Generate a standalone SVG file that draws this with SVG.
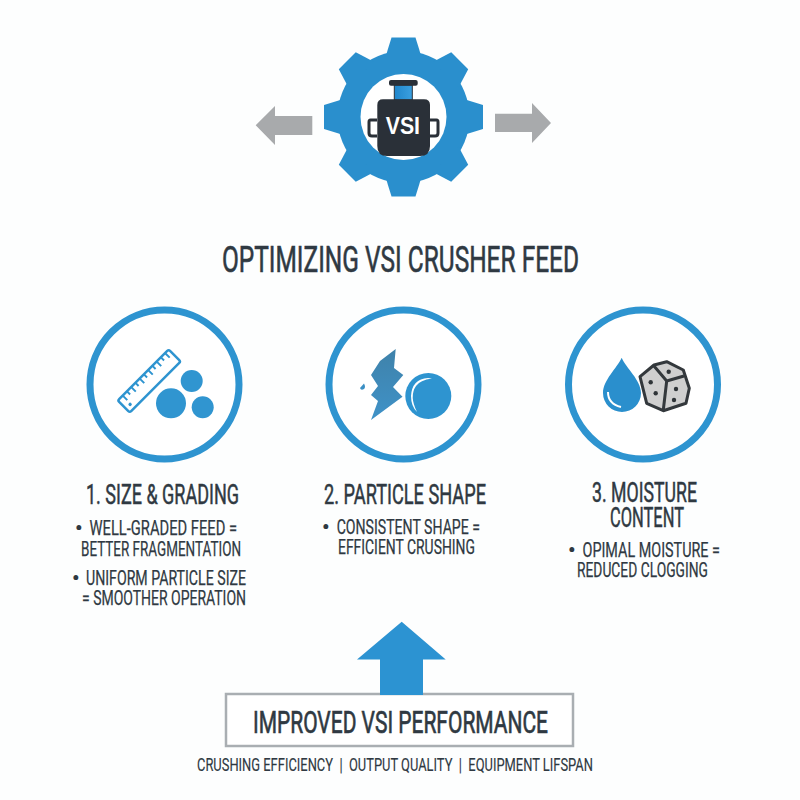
<svg xmlns="http://www.w3.org/2000/svg" xmlns:xlink="http://www.w3.org/1999/xlink" width="800" height="800" viewBox="0 0 800 800">
<style>
text{font-family:"Liberation Sans Narrow","Roboto","Liberation Sans",sans-serif;fill:#2f3942;text-anchor:start}
.title{font-size:36px;stroke:#2f3942;stroke-width:.6px}
.head{font-size:27px;stroke:#2f3942;stroke-width:.5px}
.body{font-size:21px;stroke:#2f3942;stroke-width:.25px}
.perf{font-size:32px;stroke:#2f3942;stroke-width:.7px}
.foot{font-size:19px;stroke:#2f3942;stroke-width:.15px}
.dot{font-size:21px;font-weight:700}
.ring{fill:#fff;stroke:#2e94d0;stroke-width:7}
.blue{fill:#2a8fcd}
.grey{fill:#a8aaac}
.dark{fill:#2a3038}
.pip{fill:#2f3438}
</style>
<defs>
<polygon id="tooth" points="-18,-60 -12,-79.5 12,-79.5 18,-60"/>
<linearGradient id="bolt" x1="0" y1="0" x2="0" y2="1"><stop offset="0" stop-color="#3f82aa"/><stop offset="1" stop-color="#3f92c8"/></linearGradient>
<linearGradient id="neck" x1="0" y1="0" x2="1" y2="0"><stop offset="0" stop-color="#1f86cc"/><stop offset="1" stop-color="#3ba0e0"/></linearGradient>
</defs>
<rect width="800" height="800" fill="#fdfefe"/>

<g id="connectors">
<polygon class="grey" points="255.7,125.3 275,106 275,116 312.3,116 312.3,135 275,135 275,145"/>
<polygon class="grey" points="551,123 532,103 532,113.7 495,113.7 495,132 532,132 532,143"/>
<polygon fill="#2c93d2" points="401.7,621.7 445.7,659.5 423,659.5 423,695 380,695 380,659.5 357,659.5"/>
</g>

<g id="gear">
<g class="blue" transform="translate(403.5 117)">
<circle r="66"/>
<use xlink:href="#tooth"/>
<use xlink:href="#tooth" transform="rotate(45)"/>
<use xlink:href="#tooth" transform="rotate(90)"/>
<use xlink:href="#tooth" transform="rotate(135)"/>
<use xlink:href="#tooth" transform="rotate(180)"/>
<use xlink:href="#tooth" transform="rotate(225)"/>
<use xlink:href="#tooth" transform="rotate(270)"/>
<use xlink:href="#tooth" transform="rotate(315)"/>
<circle r="43" fill="#fff"/>
</g>
<rect x="394.3" y="85" width="18" height="15" fill="url(#neck)" stroke="#2a3038" stroke-width="1"/>
<rect class="dark" x="389" y="80" width="28.7" height="5.7" rx="2"/>
<path class="dark" d="M383,99.3H424Q430,99.3 430,105V146Q430,156 420,156H387Q377.3,156 377.3,146V105Q377.3,99.3 383,99.3Z"/>
<path d="M377,120H370.5Q369,120 369,122V133Q369,136 372,136H377M430,120H436.5Q438,120 438,122V133Q438,136 435,136H430" fill="none" stroke="#2a3038" stroke-width="3"/>
<text x="385.7" y="134" font-size="24" textLength="34.3" lengthAdjust="spacingAndGlyphs" style="fill:#fff;font-family:'Liberation Sans',sans-serif;font-weight:700">VSI</text>
</g>

<text class="title" x="222" y="272" textLength="357" lengthAdjust="spacingAndGlyphs">OPTIMIZING VSI CRUSHER FEED</text>

<g id="size-grading">
<circle class="ring" cx="164.5" cy="384.5" r="74.5"/>
<g transform="translate(149.2 381) rotate(-45)">
<rect x="-36" y="-8.5" width="72" height="17" rx="2" fill="#fff" stroke="#2e94d0" stroke-width="2.5"/>
<path d="M-29,-8V-2M-23,-8V-4M-17,-8V-2M-11,-8V-4M-5,-8V-2M1,-8V-4M7,-8V-2M13,-8V-4M19,-8V-2M25,-8V-4M31,-8V-2" stroke="#2e94d0" stroke-width="2" fill="none"/>
<circle cx="-30" cy="3" r="1.7" fill="#2e94d0"/>
</g>
<circle cx="171" cy="403.3" r="15" fill="#3095d0"/>
<circle cx="191.7" cy="381" r="11" fill="#3095d0"/>
<circle cx="202.7" cy="407.3" r="11" fill="#3095d0"/>
<text class="head" x="86" y="504" textLength="153" lengthAdjust="spacingAndGlyphs">1. SIZE &amp; GRADING</text>
<text class="dot" x="75" y="535">•</text>
<text class="body" x="89.5" y="535" textLength="147.5" lengthAdjust="spacingAndGlyphs">WELL-GRADED FEED =</text>
<text class="body" x="81" y="556" textLength="160" lengthAdjust="spacingAndGlyphs">BETTER FRAGMENTATION</text>
<text class="dot" x="72" y="585">•</text>
<text class="body" x="86" y="585" textLength="160" lengthAdjust="spacingAndGlyphs">UNIFORM PARTICLE SIZE</text>
<text class="body" x="82" y="605" textLength="164" lengthAdjust="spacingAndGlyphs">= SMOOTHER OPERATION</text>
</g>

<g id="particle-shape">
<circle class="ring" cx="403.5" cy="384.5" r="74.5"/>
<polygon fill="url(#bolt)" points="395.7,349 380,361 371,375 378,386 371,395 378,401 371,420 402.5,396.7 393,387 403.3,375 394,368"/>
<path d="M364,383.5L360,388Q361,391 364,389Q366,387 364,383.5Z" fill="#3a8fc4"/>
<circle cx="428.3" cy="396" r="23" fill="#2e94d0"/>
<path d="M428,378Q412,379 411,396Q411,406 417,412Q409,396 416,386Q420,380 432,378.5Q430,378 428,378Z" fill="#fff"/>
<text class="head" x="324" y="504" textLength="162" lengthAdjust="spacingAndGlyphs">2. PARTICLE SHAPE</text>
<text class="dot" x="322" y="534">•</text>
<text class="body" x="336.7" y="534" textLength="143.3" lengthAdjust="spacingAndGlyphs">CONSISTENT SHAPE =</text>
<text class="body" x="338" y="554" textLength="137" lengthAdjust="spacingAndGlyphs">EFFICIENT CRUSHING</text>
</g>

<g id="moisture-content">
<circle class="ring" cx="643" cy="384.5" r="74.5"/>
<path class="blue" d="M621.7,357.7C626,368 641,380 641,393A19,19 0 0 1 603,393C603,380 617,368 621.7,357.7Z"/>
<path d="M608,392Q608,404 621,407" fill="none" stroke="#fff" stroke-width="2"/>
<polygon points="640,376.7 654,365 666.7,361.7 683.3,370 689.3,388.3 686,403.3 663.3,410.7 646.7,403.3" fill="#cfcfcf" stroke="#33383c" stroke-width="3" stroke-linejoin="round"/>
<path d="M654,366L666.7,381L684,376M666.7,381L663.3,410" fill="none" stroke="#33383c" stroke-width="3"/>
<circle class="pip" cx="650.7" cy="382.3" r="2.2"/>
<circle class="pip" cx="668.7" cy="371.7" r="2.2"/>
<circle class="pip" cx="655.7" cy="393.3" r="2.2"/>
<circle class="pip" cx="676" cy="389" r="2.2"/>
<circle class="pip" cx="674" cy="400" r="2.2"/>
<text class="head" x="592" y="502" textLength="105" lengthAdjust="spacingAndGlyphs">3. MOISTURE</text>
<text class="head" x="610" y="527" textLength="74" lengthAdjust="spacingAndGlyphs">CONTENT</text>
<text class="dot" x="568" y="557">•</text>
<text class="body" x="582.5" y="557" textLength="137.5" lengthAdjust="spacingAndGlyphs">OPIMAL MOISTURE =</text>
<text class="body" x="577" y="577" textLength="131" lengthAdjust="spacingAndGlyphs">REDUCED CLOGGING</text>
</g>

<g id="performance">
<rect x="226" y="694" width="347" height="52" fill="#fff" stroke="#a9aeb2" stroke-width="2.5"/>
<polygon fill="#2c93d2" points="380,692 423,692 423,695 380,695"/>
<text class="perf" x="253" y="733" textLength="295" lengthAdjust="spacingAndGlyphs">IMPROVED VSI PERFORMANCE</text>
</g>

<g id="benefits">
<text class="foot" x="197" y="771" textLength="396" lengthAdjust="spacingAndGlyphs">CRUSHING EFFICIENCY&#160; |&#160; OUTPUT QUALITY&#160; |&#160; EQUIPMENT LIFSPAN</text>
</g>
</svg>
